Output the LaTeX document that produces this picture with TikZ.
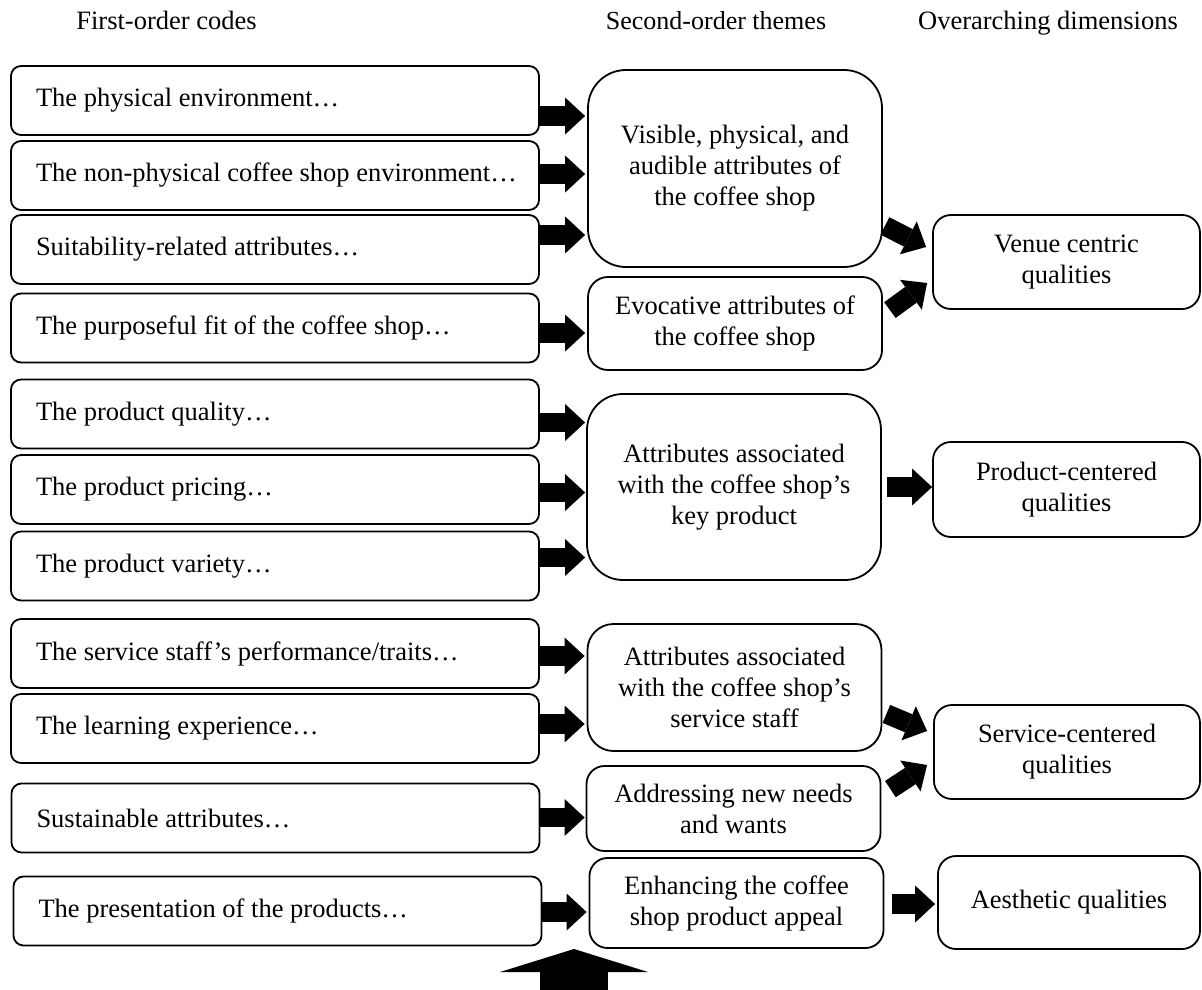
\documentclass[tikz,border=0pt]{standalone}
\usepackage{fontspec}
\setmainfont{Liberation Serif}
\usetikzlibrary{arrows.meta,calc}
\newcommand{\lefttextbox}[1]{\makebox[478pt][l]{#1}}
\begin{document}
\begin{tikzpicture}[x=1pt,y=-1pt,
  every node/.style={font=\fontsize{26.5}{31}\selectfont},
  lbox/.style={draw, line width=1.8pt, rounded corners=10pt, minimum width=528pt, minimum height=69pt, inner sep=0pt},
  mbox/.style={draw, line width=1.8pt, align=center, minimum width=294pt, inner sep=0pt},
  rbox/.style={draw, line width=1.8pt, align=center, rounded corners=18pt, minimum height=94pt, inner sep=0pt},
  hdr/.style={anchor=base, inner sep=0pt},
  barrow/.style={line width=19.5pt, -{Triangle[length=20pt,width=37pt,line width=0pt]}},
  bigarrow/.style={line width=68pt, -{Triangle[length=23pt,width=148pt,line width=0pt]}}
]
\useasboundingbox (0,0) rectangle (1202,990);

% headers
\node[hdr] (h1) at (166.5,30) {First-order codes};
\node[hdr, font=\fontsize{26}{31}\selectfont] (h2) at (716,30) {Second-order themes};
\node[hdr] (h3) at (1048,30) {Overarching dimensions};

% first-order codes
\node[lbox] (b1) at (275,100.5) {\lefttextbox{The physical environment…}};
\node[lbox] (b2) at (275,175.5) {\lefttextbox{The non-physical coffee shop environment…}};
\node[lbox] (b3) at (275,249.5) {\lefttextbox{Suitability-related attributes…}};
\node[lbox] (b4) at (275,328) {\lefttextbox{The purposeful fit of the coffee shop…}};
\node[lbox] (b5) at (275,414) {\lefttextbox{The product quality…}};
\node[lbox] (b6) at (275,489.5) {\lefttextbox{The product pricing…}};
\node[lbox] (b7) at (275,566) {\lefttextbox{The product variety…}};
\node[lbox] (b8) at (275,653.5) {\lefttextbox{The service staff’s performance/traits…}};
\node[lbox] (b9) at (275,728.5) {\lefttextbox{The learning experience…}};
\node[lbox] (b10) at (275.5,818) {\lefttextbox{Sustainable attributes…}};
\node[lbox] (b11) at (277.5,911) {\lefttextbox{The presentation of the products…}};

% second-order themes
\node[mbox, minimum height=197pt, rounded corners=38pt] (A) at (735,168.5) {Visible, physical, and\\audible attributes of\\the coffee shop};
\node[mbox, minimum height=93pt, rounded corners=20pt] (B) at (735,323.5) {Evocative attributes of\\the coffee shop};
\node[mbox, minimum height=186pt, rounded corners=36pt] (C) at (734,487) {Attributes associated\\with the coffee shop’s\\key product};
\node[mbox, minimum height=127pt, rounded corners=26pt] (D) at (734.5,687.5) {Attributes associated\\with the coffee shop’s\\service staff};
\node[mbox, minimum height=85pt, rounded corners=18pt] (E) at (733.5,808.5) {Addressing new needs\\and wants};
\node[mbox, minimum height=90pt, rounded corners=18pt] (F) at (736.5,903) {Enhancing the coffee\\shop product appeal};

% overarching dimensions
\node[rbox, minimum width=267pt] (V) at (1066.5,262) {Venue centric\\qualities};
\node[rbox, minimum width=267pt, minimum height=95pt] (P) at (1066.5,489.5) {Product-centered\\qualities};
\node[rbox, minimum width=266pt] (S) at (1067,752) {Service-centered\\qualities};
\node[rbox, minimum width=262pt, minimum height=93pt] (Ae) at (1069,902.5) {Aesthetic qualities};

% first -> second arrows
\coordinate (t1) at ($(b1.east)+(0,15.5)$);
\coordinate (t2) at ($(b2.east)+(0,-1.5)$);
\coordinate (t3) at ($(b3.east)+(0,-14.5)$);
\coordinate (t4) at ($(b4.east)+(0,5)$);
\coordinate (t5) at ($(b5.east)+(0,8.5)$);
\coordinate (t6) at ($(b6.east)+(0,3)$);
\coordinate (t7) at ($(b7.east)+(0,-8.5)$);
\coordinate (t8) at ($(b8.east)+(0,2.5)$);
\coordinate (t9) at ($(b9.east)+(0,-4.5)$);
\coordinate (t10) at ($(b10.east)+(0,-0.5)$);
\coordinate (t11) at ($(b11.east)+(0,1)$);
\draw[barrow] (t1) -- ($(t1 -| A.west)+(-2,0)$);
\draw[barrow] (t2) -- ($(t2 -| A.west)+(-2,0)$);
\draw[barrow] (t3) -- ($(t3 -| A.west)+(-2,0)$);
\draw[barrow] (t4) -- ($(t4 -| B.west)+(-2,0)$);
\draw[barrow] (t5) -- ($(t5 -| C.west)+(-1,0)$);
\draw[barrow] (t6) -- ($(t6 -| C.west)+(-1,0)$);
\draw[barrow] (t7) -- ($(t7 -| C.west)+(-1,0)$);
\draw[barrow] (t8) -- ($(t8 -| D.west)+(-2,0)$);
\draw[barrow] (t9) -- ($(t9 -| D.west)+(-2,0)$);
\draw[barrow] (t10) -- ($(t10 -| E.west)+(-1,0)$);
\draw[barrow] (t11) -- ($(t11 -| F.west)+(-2,0)$);

% second -> overarching arrows
\draw[barrow] ($(A.south east)+(2,-42)$) -- ($(V.west)+(-6,-15)$);
\draw[barrow] ($(B.north east)+(7,34)$) -- ($(V.west)+(-5,21)$);
\coordinate (tp) at ($(C.east)+(5,0)$);
\draw[barrow] (tp) -- (tp -| P.west);
\draw[barrow] ($(D.south east)+(4,-38)$) -- ($(S.west)+(-6,-21)$);
\draw[barrow] ($(E.north east)+(9,24)$) -- ($(S.west)+(-6,13)$);
\coordinate (ta) at ($(F.east)+(8,1)$);
\draw[barrow] (ta) -- ($(ta -| Ae.west)+(-2,0)$);

% bottom arrow
\coordinate (up0) at (574,992);
\coordinate (up1) at (574,949);
\draw[bigarrow] (up0) -- (up1);
\end{tikzpicture}
\end{document}
